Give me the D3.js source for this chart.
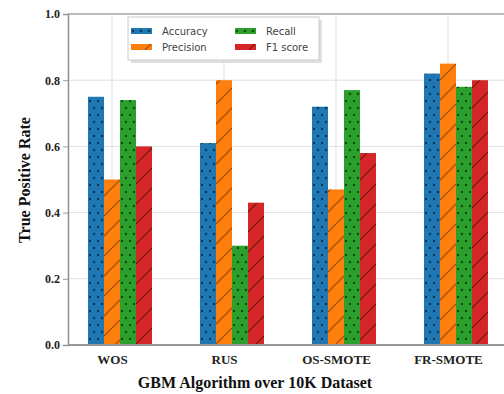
<!DOCTYPE html>
<html>
  <head>
    <meta charset="utf-8" />
    <script src="https://d3js.org/d3.v7.min.js"></script>
    <style>
      body { margin: 0; background: white; }
      svg { display: block; }
    </style>
  </head>
  <body>
    <svg id="canvas" width="504" height="394"></svg>
    <script>
      // data
      const categories = ["WOS", "RUS", "OS-SMOTE", "FR-SMOTE"];
      const accuracy = [0.75, 0.61, 0.72, 0.82];
      const precision = [0.50, 0.80, 0.47, 0.85];
      const recall = [0.74, 0.30, 0.77, 0.78];
      const f1score = [0.60, 0.43, 0.58, 0.80];
      const seriesNames = ["Accuracy", "Precision", "Recall", "F1 score"];
      const yTicks = [0.0, 0.2, 0.4, 0.6, 0.8, 1.0];

      const series = [accuracy, precision, recall, f1score];
      const colors = ["#1f77b4", "#ff7f0e", "#2ca02c", "#d62728"];
      const hatch = ["dot", "slash", "dot", "slash"];
      const hatchColor = ["#0b2a40", "#7a3a05", "#0d3a0d", "#5a0e0e"];

      const svg = d3.select("#canvas");
      const serif = "'Liberation Serif', 'DejaVu Serif', serif";

      const w = 1 / 7; // bar width in category units
      const x = d3.scaleLinear().domain([-0.393, 3.536]).range([68, 508]);
      const y = d3.scaleLinear().domain([0, 1]).range([345, 14]);

      // patterns
      const defs = svg.append("defs");
      colors.forEach((c, k) => {
        if (hatch[k] == "dot") {
          const p = defs.append("pattern")
            .attr("id", "pat" + k)
            .attr("patternUnits", "userSpaceOnUse")
            .attr("width", 8).attr("height", 14);
          p.append("rect").attr("width", 8).attr("height", 14).attr("fill", c);
          p.append("circle").attr("cx", 2).attr("cy", 3).attr("r", 1.2)
            .attr("fill", hatchColor[k]).attr("opacity", 0.85);
          p.append("circle").attr("cx", 6).attr("cy", 10).attr("r", 1.2)
            .attr("fill", hatchColor[k]).attr("opacity", 0.85);
        } else {
          const p = defs.append("pattern")
            .attr("id", "pat" + k)
            .attr("patternUnits", "userSpaceOnUse")
            .attr("width", 20).attr("height", 20);
          p.append("rect").attr("width", 20).attr("height", 20).attr("fill", c);
          p.append("path")
            .attr("d", "M-2,22 L22,-2 M-6,6 L6,-6 M14,26 L26,14")
            .attr("stroke", hatchColor[k])
            .attr("stroke-width", 1.2)
            .attr("opacity", 0.8);
        }
      });

      // grid
      svg.append("g")
        .selectAll("line")
        .data(yTicks)
        .enter()
        .append("line")
        .attr("x1", 68).attr("x2", 504)
        .attr("y1", (d) => y(d)).attr("y2", (d) => y(d))
        .attr("stroke", "#e0e0e0").attr("stroke-width", 1);

      svg.append("g")
        .selectAll("line")
        .data(categories)
        .enter()
        .append("line")
        .attr("x1", (d, i) => x(i)).attr("x2", (d, i) => x(i))
        .attr("y1", y(1)).attr("y2", y(0))
        .attr("stroke", "#e0e0e0").attr("stroke-width", 1);

      // bars
      series.forEach((vals, k) => {
        svg.append("g")
          .selectAll("rect")
          .data(vals)
          .enter()
          .append("rect")
          .attr("x", (d, i) => x(i + (k - 1) * w - w / 2))
          .attr("width", x(w) - x(0))
          .attr("y", (d) => y(d))
          .attr("height", (d) => y(0) - y(d))
          .attr("fill", "url(#pat" + k + ")");
      });

      // spines
      svg.append("line")
        .attr("x1", 68).attr("x2", 504).attr("y1", y(1)).attr("y2", y(1))
        .attr("stroke", "#aaa").attr("stroke-width", 1.5);
      svg.append("line")
        .attr("x1", 68).attr("x2", 504).attr("y1", y(0)).attr("y2", y(0))
        .attr("stroke", "#999").attr("stroke-width", 2);

      // y axis
      const yAxis = d3.axisLeft(y).tickValues(yTicks).tickFormat(d3.format(".1f"))
        .tickSize(5).tickPadding(3);
      const yG = svg.append("g").attr("transform", "translate(68,0)").call(yAxis);
      yG.select(".domain").attr("stroke", "#8a8f99").attr("stroke-width", 1.5);
      yG.selectAll(".tick line").attr("stroke", "#999");
      yG.selectAll("text")
        .style("font-family", serif).style("font-weight", "bold")
        .style("font-size", "12px").attr("fill", "#222");

      // x axis
      const xAxis = d3.axisBottom(x).tickValues(d3.range(categories.length))
        .tickFormat((d) => categories[d]).tickSize(0).tickPadding(10);
      const xG = svg.append("g").attr("transform", "translate(0," + y(0) + ")").call(xAxis);
      xG.select(".domain").remove();
      xG.selectAll("text")
        .style("font-family", serif).style("font-weight", "bold")
        .style("font-size", "13px").attr("fill", "#222");

      // axis labels
      svg.append("text")
        .text("True Positive Rate")
        .attr("transform", "translate(30,180) rotate(-90)")
        .attr("text-anchor", "middle")
        .style("font-family", serif).style("font-weight", "bold")
        .style("font-size", "16px").attr("fill", "#111");

      svg.append("text")
        .text("GBM Algorithm over 10K Dataset")
        .attr("x", 255).attr("y", 388)
        .attr("text-anchor", "middle")
        .style("font-family", serif).style("font-weight", "bold")
        .style("font-size", "16px").attr("fill", "#111");

      // legend
      const lg = svg.append("g");
      lg.append("rect")
        .attr("x", 131).attr("y", 20).attr("width", 191).attr("height", 43)
        .attr("fill", "#ccc").attr("opacity", 0.6);
      lg.append("rect")
        .attr("x", 128).attr("y", 17).attr("width", 191).attr("height", 43)
        .attr("fill", "white").attr("stroke", "#ccc");
      const items = lg.selectAll("g.item")
        .data(seriesNames)
        .enter()
        .append("g")
        .attr("class", "item")
        .attr("transform", (d, k) =>
          "translate(" + (k < 2 ? 131 : 235) + "," + (k % 2 == 0 ? 28 : 44) + ")");
      items.append("rect")
        .attr("width", 21).attr("height", 6)
        .attr("fill", (d, k) => "url(#pat" + k + ")");
      items.append("text")
        .text((d) => d)
        .attr("x", 31).attr("y", 7)
        .style("font-family", "'DejaVu Sans', sans-serif")
        .style("font-size", "10px").attr("fill", "#444");
    </script>
  </body>
</html>
